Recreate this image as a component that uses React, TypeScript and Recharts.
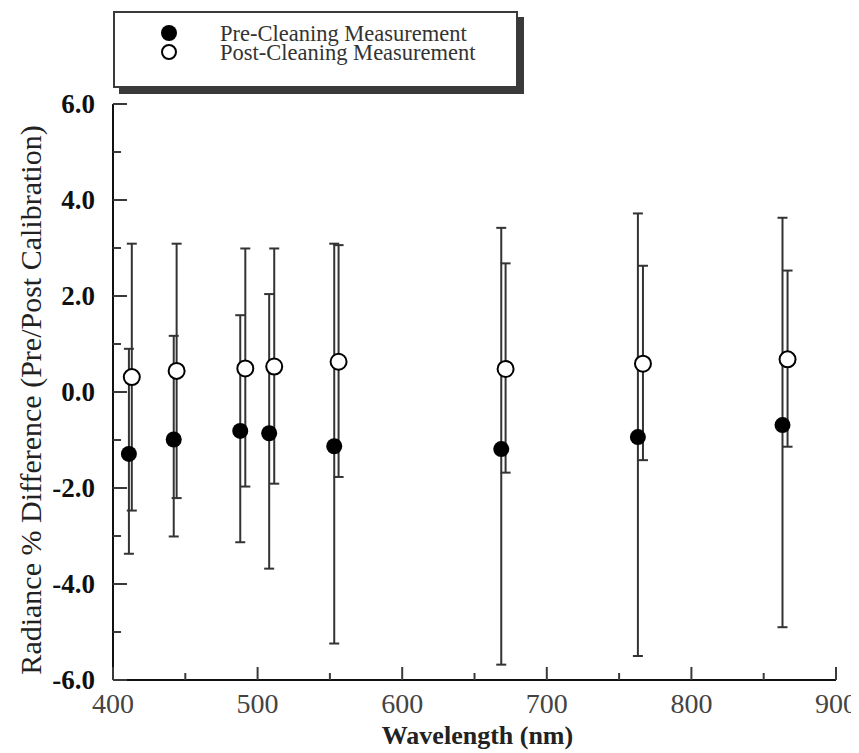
import React from 'react';
import { ScatterChart, Scatter, XAxis, YAxis, ErrorBar, Legend } from 'recharts';

const preWavelength = [411, 442, 488, 508, 553, 668.5, 763, 863];
const preValue = [-1.29, -0.99, -0.81, -0.86, -1.13, -1.19, -0.94, -0.69];
const preHigh = [0.9, 1.17, 1.6, 2.04, 3.09, 3.42, 3.72, 3.63];
const preLow = [-3.37, -3.01, -3.13, -3.68, -5.24, -5.68, -5.5, -4.9];

const postWavelength = [413, 444, 491.5, 511.5, 556, 671.5, 766.5, 866.5];
const postValue = [0.31, 0.44, 0.49, 0.53, 0.63, 0.48, 0.59, 0.68];
const postHigh = [3.09, 3.09, 2.99, 2.99, 3.06, 2.68, 2.63, 2.53];
const postLow = [-2.47, -2.21, -1.97, -1.91, -1.77, -1.68, -1.42, -1.14];

const xTicks = [400, 450, 500, 550, 600, 650, 700, 750, 800, 850, 900];
const yTicks = [-6, -5, -4, -3, -2, -1, 0, 1, 2, 3, 4, 5, 6];
const seriesNames = ['Pre-Cleaning Measurement', 'Post-Cleaning Measurement'];
const xTitle = 'Wavelength (nm)';
const yTitle = 'Radiance % Difference (Pre/Post Calibration)';

const FONT = '"Liberation Serif", "Times New Roman", serif';

const build = (w: number[], v: number[], lo: number[], hi: number[]) =>
  w.map((x, i) => ({ x, y: v[i], err: [v[i] - lo[i], hi[i] - v[i]] }));

const preData = build(preWavelength, preValue, preLow, preHigh);
const postData = build(postWavelength, postValue, postLow, postHigh);

const TICK_COLOR = '#3a3a3a';

const BottomTick = (p: any) => {
  const { x, y, payload } = p;
  const v = payload.value;
  const major = v % 100 === 0;
  return (
    <g>
      <line x1={x} x2={x} y1={y} y2={y - (major ? 13 : 7)} stroke={TICK_COLOR} strokeWidth={2} />
      {major && (
        <text x={x} y={y + 23} dy="0.35em" textAnchor="middle" fontSize={28} fill="#444" fontFamily={FONT}>
          {v}
        </text>
      )}
    </g>
  );
};

const TopTick = (p: any) => {
  const { x, y, payload } = p;
  const major = payload.value % 100 === 0;
  return <line x1={x} x2={x} y1={y} y2={y + (major ? 13 : 8)} stroke={TICK_COLOR} strokeWidth={2} />;
};

const LeftTick = (p: any) => {
  const { x, y, payload } = p;
  const v = payload.value;
  const major = v % 2 === 0;
  return (
    <g>
      <line x1={x} x2={x + (major ? 14 : 8)} y1={y} y2={y} stroke={TICK_COLOR} strokeWidth={2} />
      {major && (
        <text x={x - 18} y={y} dy="0.35em" textAnchor="end" fontSize={27} fontWeight="bold" fill="#111" fontFamily={FONT}>
          {v.toFixed(1)}
        </text>
      )}
    </g>
  );
};

const RightTick = (p: any) => {
  const { x, y, payload } = p;
  const major = payload.value % 2 === 0;
  return <line x1={x} x2={x - (major ? 14 : 8)} y1={y} y2={y} stroke={TICK_COLOR} strokeWidth={2} />;
};

const YTitle = (p: any) => {
  const vb = p.viewBox || { x: 0, y: 96, width: 105, height: 576 };
  const cx = 22;
  const cy = vb.y + vb.height / 2 + 8;
  return (
    <text x={cx} y={cy} dy="0.35em" textAnchor="middle" transform={`rotate(-90, ${cx}, ${cy})`} fontSize={30} fill="#222" fontFamily={FONT}>
      {yTitle}
    </text>
  );
};

const XTitle = (p: any) => {
  const vb = p.viewBox || { x: 105, y: 672, width: 723, height: 73 };
  const cx = vb.x + vb.width / 2 + 3;
  const cy = vb.y + 55;
  return (
    <text x={cx} y={cy} dy="0.35em" textAnchor="middle" fontSize={26} fontWeight="bold" fill="#222" fontFamily={FONT}>
      {xTitle}
    </text>
  );
};

const Empty = () => <g />;
const FilledDot = (p: any) => <circle cx={p.cx} cy={p.cy} r={8} fill="#000" />;
const OpenDot = (p: any) => <circle cx={p.cx} cy={p.cy} r={8} fill="#fff" stroke="#000" strokeWidth={2} />;

const LegendBox = () => {
  const W = 405;
  const H = 77;
  return (
    <svg width={W + 8} height={H + 8} style={{ display: 'block' }}>
      <rect x={6} y={6} width={W} height={H} fill="#3a3a3a" />
      <rect x={1} y={1} width={W - 2} height={H - 2} fill="#fff" stroke="#3a3a3a" strokeWidth={2} />
      <circle cx={56} cy={22} r={8} fill="#000" />
      <circle cx={56} cy={41} r={7} fill="#fff" stroke="#000" strokeWidth={2} />
      <text x={107} y={22} dy="0.35em" fontSize={22.5} fill="#333" fontFamily={FONT}>{seriesNames[0]}</text>
      <text x={107} y={41} dy="0.35em" fontSize={22.5} fill="#333" fontFamily={FONT}>{seriesNames[1]}</text>
    </svg>
  );
};

export default function App() {
  return (
    <div style={{ width: 843, height: 745, background: '#fff' }}>
      <ScatterChart width={843} height={745} margin={{ top: 96, right: 15, bottom: 0, left: 0 }} style={{ fontFamily: FONT }}>
        <XAxis
          xAxisId="b"
          type="number"
          dataKey="x"
          domain={[400, 900]}
          ticks={xTicks}
          interval={0}
          allowDataOverflow
          orientation="bottom"
          height={73}
          tickSize={0}
          tickMargin={0}
          tickLine={false}
          axisLine={{ stroke: '#111', strokeWidth: 2 }}
          tick={BottomTick}
          label={XTitle}
        />
        <XAxis
          xAxisId="t"
          type="number"
          domain={[400, 900]}
          ticks={xTicks}
          interval={0}
          allowDataOverflow
          orientation="top"
          height={0}
          tickSize={0}
          tickMargin={0}
          tickLine={false}
          axisLine={{ stroke: '#111', strokeWidth: 2 }}
          tick={TopTick}
        />
        <YAxis
          yAxisId="l"
          type="number"
          dataKey="y"
          domain={[-6, 6]}
          ticks={yTicks}
          interval={0}
          allowDataOverflow
          orientation="left"
          width={105}
          tickSize={0}
          tickMargin={0}
          tickLine={false}
          axisLine={{ stroke: '#111', strokeWidth: 2 }}
          tick={LeftTick}
          label={YTitle}
        />
        <YAxis
          yAxisId="r"
          type="number"
          domain={[-6, 6]}
          ticks={yTicks}
          interval={0}
          allowDataOverflow
          orientation="right"
          width={0}
          tickSize={0}
          tickMargin={0}
          tickLine={false}
          axisLine={{ stroke: '#111', strokeWidth: 2 }}
          tick={RightTick}
        />
        <Legend
          layout="vertical"
          align="center"
          verticalAlign="middle"
          wrapperStyle={{ top: 3, left: 105, width: 'auto', right: 'auto', bottom: 'auto' }}
          content={LegendBox}
        />
        <Scatter name="preErr" xAxisId="b" yAxisId="l" data={preData} shape={Empty} isAnimationActive={false} legendType="none">
          <ErrorBar dataKey="err" direction="y" width={5} stroke="#333" strokeWidth={2} isAnimationActive={false} />
        </Scatter>
        <Scatter name="postErr" xAxisId="b" yAxisId="l" data={postData} shape={Empty} isAnimationActive={false} legendType="none">
          <ErrorBar dataKey="err" direction="y" width={5} stroke="#333" strokeWidth={2} isAnimationActive={false} />
        </Scatter>
        <Scatter name={seriesNames[0]} xAxisId="b" yAxisId="l" data={preData} shape={FilledDot} isAnimationActive={false} />
        <Scatter name={seriesNames[1]} xAxisId="b" yAxisId="l" data={postData} shape={OpenDot} isAnimationActive={false} />
      </ScatterChart>
    </div>
  );
}
